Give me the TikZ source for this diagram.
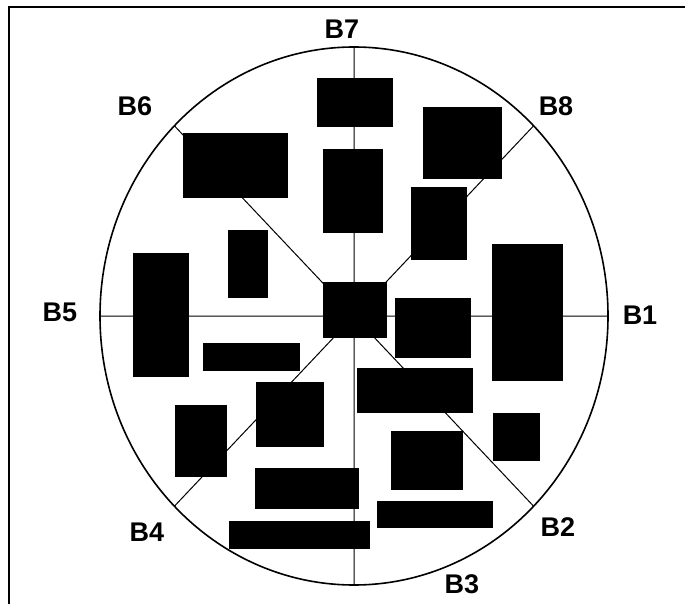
\documentclass[tikz,border=0pt]{standalone}
\usepackage{fontspec}
\setmainfont{Liberation Sans}
\usetikzlibrary{calc}
\begin{document}
\begin{tikzpicture}[x=1pt,y=-1pt,
  lab/.style={font=\fontsize{27}{27}\selectfont\bfseries,inner sep=1pt}]
  \useasboundingbox (0,0) rectangle (685,604);
  \draw[line width=2pt] (9,604)--(9,7)--(685,7);
  \coordinate (O) at (354,316);
  \foreach \i in {1,...,8}
    \coordinate (B\i) at ($(O)+({(\i-1)*45}:254 and 269)$);
  \draw[line width=1pt] (B1)--(B5) (B3)--(B7) (B2)--(B6) (B4)--(B8);
  \draw[line width=1.6pt] (O) ellipse [x radius=254,y radius=269];
  \foreach \xa/\ya/\xb/\yb in {317/78/393/127,323/149/383/233,183/133/288/198,
      228/230/268/298,133/253/189/377,323/282/387/338,423/107/502/179,
      411/187/467/260,492/244/563/381,395/298/471/358,203/343/300/371,
      357/368/473/413,256/382/324/447,175/405/227/477,493/413/540/461,
      391/431/463/490,255/468/359/509,377/501/493/528,229/521/370/549}
    \fill (\xa,\ya) rectangle (\xb,\yb);
  \foreach \i/\p in {1/{640,315},2/{558,527},3/{462,584},4/{147,532},
      5/{60,312},6/{135,106},7/{342,29},8/{556,106}}
    \node[lab] (l\i) at (\p) {B\i};
\end{tikzpicture}
\end{document}
